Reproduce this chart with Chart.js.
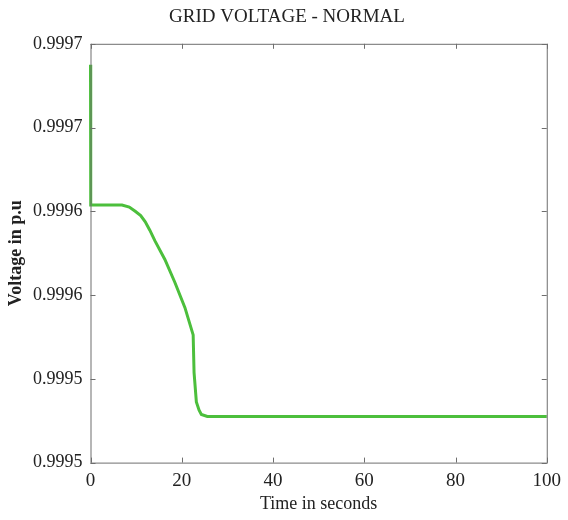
<!DOCTYPE html>
<html>
<head>
<meta charset="utf-8">
<script src="https://cdn.jsdelivr.net/npm/chart.js@4"></script>
<style>
  html, body { margin: 0; padding: 0; background: #fff; }
  #wrap { width: 568px; height: 520px; }
</style>
</head>
<body>
<div id="wrap"><canvas id="gridChart" width="568" height="520"></canvas></div>
<script>
// grid voltage trace (p.u) against time
const timeSec = [0, 0.05, 6.9, 8.5, 9.8, 11, 12, 13, 14.1, 16.3, 18.5, 20.7, 22.5, 22.7, 23.2, 23.8, 24.3, 25.6, 100];
const voltagePu = [0.99969, 0.999623, 0.999623, 0.999622, 0.999620, 0.999618, 0.999615, 0.999611, 0.999606,
    0.999597, 0.999586, 0.999574, 0.999561, 0.999543, 0.999529, 0.999525, 0.999523, 0.999522, 0.999522];

const xTicks = [0, 20, 40, 60, 80, 100];
const yTicks = [0.99950, 0.99954, 0.99958, 0.99962, 0.99966, 0.99970];

const serif = '"Liberation Serif", "DejaVu Serif", serif';

// box round the plot with small inward ticks on every side
const frameTicks = {
    id: 'frameTicks',
    afterDraw(chart) {
        const { ctx, chartArea: a, scales } = chart;
        const len = 5;
        ctx.save();
        ctx.strokeStyle = '#6e6e6e';
        ctx.lineWidth = 1;
        ctx.strokeRect(a.left + 0.5, a.top + 0.5, a.right - a.left, a.bottom - a.top);
        ctx.beginPath();
        xTicks.forEach(v => {
            const px = Math.round(scales.x.getPixelForValue(v)) + 0.5;
            ctx.moveTo(px, a.bottom); ctx.lineTo(px, a.bottom - len);
            ctx.moveTo(px, a.top); ctx.lineTo(px, a.top + len);
        });
        yTicks.forEach(v => {
            const py = Math.round(scales.y.getPixelForValue(v)) + 0.5;
            ctx.moveTo(a.left, py); ctx.lineTo(a.left + len, py);
            ctx.moveTo(a.right, py); ctx.lineTo(a.right - len, py);
        });
        ctx.stroke();
        ctx.restore();
    }
};

new Chart(document.getElementById('gridChart'), {
    type: 'line',
    data: {
        datasets: [{
            data: timeSec.map((t, i) => ({ x: t, y: voltagePu[i] })),
            borderColor: '#4cbf3c',
            borderWidth: 3,
            pointRadius: 0,
            fill: false,
            tension: 0,
            clip: 4
        }]
    },
    options: {
        responsive: false,
        animation: false,
        layout: { padding: { left: 7, right: 1, top: 0, bottom: 5 } },
        plugins: {
            legend: { display: false },
            tooltip: { enabled: false },
            title: {
                display: true,
                text: 'GRID VOLTAGE - NORMAL',
                color: '#222',
                font: { family: serif, size: 19, weight: 'normal' },
                padding: { top: 6, bottom: 15 }
            }
        },
        scales: {
            x: {
                type: 'linear',
                min: 0,
                max: 100,
                afterBuildTicks: axis => { axis.ticks = xTicks.map(v => ({ value: v })); },
                grid: { display: false, drawTicks: false },
                border: { display: false },
                ticks: {
                    color: '#222',
                    padding: 7,
                    font: { family: serif, size: 19 },
                    maxRotation: 0
                },
                title: {
                    display: true,
                    text: 'Time in seconds',
                    color: '#222',
                    font: { family: serif, size: 18 },
                    padding: { top: -6, bottom: 0 }
                }
            },
            y: {
                min: 0.9995,
                max: 0.9997,
                afterBuildTicks: axis => { axis.ticks = yTicks.map(v => ({ value: v })); },
                grid: { display: false, drawTicks: false },
                border: { display: false },
                ticks: {
                    color: '#222',
                    padding: 8,
                    font: { family: serif, size: 18 },
                    callback: v => v.toFixed(4)
                },
                title: {
                    display: true,
                    text: 'Voltage in p.u',
                    color: '#222',
                    font: { family: serif, size: 18, weight: 'bold', lineHeight: 1 },
                    padding: { top: 0, bottom: 0 }
                }
            }
        }
    },
    plugins: [frameTicks]
});
</script>
</body>
</html>
